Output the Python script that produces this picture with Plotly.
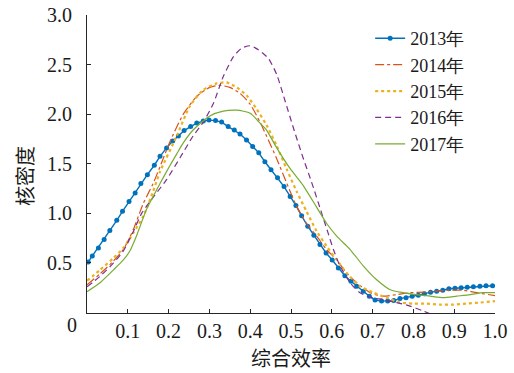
import plotly.graph_objects as go

# ---- data ----
x2013 = [0.003, 0.013, 0.028, 0.042, 0.056, 0.073, 0.087, 0.103, 0.118, 0.132, 0.148, 0.165,
         0.179, 0.195, 0.21, 0.224, 0.238, 0.254, 0.269, 0.285, 0.299, 0.315, 0.33, 0.346,
         0.361, 0.375, 0.391, 0.406, 0.421, 0.436, 0.451, 0.467, 0.483, 0.498, 0.512, 0.526,
         0.541, 0.556, 0.571, 0.586, 0.601, 0.616, 0.632, 0.647, 0.661, 0.677, 0.692, 0.706,
         0.722, 0.737, 0.752, 0.767, 0.782, 0.797, 0.812, 0.827, 0.842, 0.857, 0.872, 0.887,
         0.902, 0.917, 0.932, 0.947, 0.963, 0.978, 0.994]
y2013 = [0.51, 0.57, 0.65, 0.735, 0.826, 0.93, 1.02, 1.12, 1.205, 1.30, 1.39, 1.485,
         1.575, 1.66, 1.73, 1.78, 1.835, 1.875, 1.91, 1.93, 1.94, 1.935, 1.92, 1.875,
         1.84, 1.80, 1.74, 1.675, 1.61, 1.52, 1.44, 1.36, 1.27, 1.17, 1.08, 0.975,
         0.87, 0.78, 0.685, 0.60, 0.53, 0.45, 0.37, 0.315, 0.265, 0.215, 0.165, 0.125,
         0.115, 0.115, 0.12, 0.14, 0.15, 0.165, 0.175, 0.19, 0.205, 0.215, 0.225, 0.24,
         0.245, 0.25, 0.255, 0.26, 0.265, 0.27, 0.27]

x2014 = [0.0, 0.032, 0.065, 0.089, 0.105, 0.114, 0.138, 0.162, 0.179, 0.203, 0.236, 0.269,
         0.301, 0.326, 0.35, 0.375, 0.40, 0.424, 0.44, 0.465, 0.489, 0.514, 0.538, 0.563,
         0.587, 0.612, 0.636, 0.661, 0.694, 0.726, 0.759, 0.792, 0.824, 0.857, 0.89, 0.922,
         0.955, 1.0]
y2014 = [0.28, 0.39, 0.52, 0.635, 0.76, 0.84, 1.10, 1.30, 1.47, 1.72, 2.0, 2.18,
         2.27, 2.29, 2.27, 2.21, 2.10, 1.92, 1.78, 1.55, 1.31, 1.07, 0.90, 0.77,
         0.635, 0.53, 0.40, 0.30, 0.20, 0.165, 0.18, 0.20, 0.205, 0.215, 0.225, 0.225,
         0.20, 0.17]

x2015 = [0.0, 0.032, 0.065, 0.089, 0.113, 0.138, 0.162, 0.179, 0.22, 0.252, 0.285, 0.318,
         0.342, 0.367, 0.391, 0.416, 0.44, 0.465, 0.489, 0.514, 0.538, 0.563, 0.587, 0.612,
         0.636, 0.669, 0.702, 0.734, 0.767, 0.80, 0.832, 0.865, 0.898, 0.93, 0.963, 1.0]
y2015 = [0.32, 0.43, 0.55, 0.65, 0.80, 0.97, 1.22, 1.42, 1.78, 2.08, 2.245, 2.31,
         2.32, 2.27, 2.19, 2.05, 1.89, 1.68, 1.45, 1.22, 1.02, 0.82, 0.67, 0.53,
         0.40, 0.265, 0.20, 0.15, 0.10, 0.09, 0.09, 0.08, 0.08, 0.09, 0.10, 0.115]

x2016 = [0.0, 0.032, 0.065, 0.089, 0.114, 0.134, 0.162, 0.195, 0.228, 0.26, 0.285, 0.31,
         0.334, 0.359, 0.379, 0.40, 0.42, 0.445, 0.465, 0.485, 0.506, 0.528, 0.55, 0.573,
         0.591, 0.604, 0.62, 0.645, 0.669, 0.698, 0.726, 0.759, 0.792, 0.824, 0.845]
y2016 = [0.26, 0.365, 0.50, 0.62, 0.82, 1.0, 1.16, 1.34, 1.56, 1.78, 1.92, 2.11,
         2.38, 2.58, 2.665, 2.69, 2.65, 2.56, 2.40, 2.14, 1.86, 1.58, 1.32, 1.03,
         0.80, 0.635, 0.47, 0.30, 0.20, 0.15, 0.13, 0.10, 0.065, 0.015, -0.02]

x2017 = [0.0, 0.032, 0.065, 0.089, 0.105, 0.122, 0.146, 0.179, 0.203, 0.22, 0.236, 0.26,
         0.30, 0.334, 0.367, 0.40, 0.424, 0.44, 0.465, 0.498, 0.53, 0.563, 0.587, 0.612,
         0.645, 0.677, 0.71, 0.743, 0.775, 0.808, 0.841, 0.873, 0.906, 0.939, 0.971, 1.0]
y2017 = [0.21, 0.30, 0.43, 0.53, 0.62, 0.78, 1.04, 1.30, 1.48, 1.60, 1.71, 1.84,
         1.98, 2.03, 2.04, 2.01, 1.91, 1.84, 1.66, 1.45, 1.28, 1.06, 0.90, 0.77,
         0.635, 0.47, 0.33, 0.23, 0.20, 0.18, 0.165, 0.15, 0.165, 0.18, 0.20, 0.20]

series_names = ["2013年", "2014年", "2015年", "2016年", "2017年"]
x_ticks = [0.1, 0.2, 0.3, 0.4, 0.5, 0.6, 0.7, 0.8, 0.9, 1.0]
x_tick_labels = ["0.1", "0.2", "0.3", "0.4", "0.5", "0.6", "0.7", "0.8", "0.9", "1.0"]
y_ticks = [0.5, 1.0, 1.5, 2.0, 2.5, 3.0]
y_tick_labels = ["0.5", "1.0", "1.5", "2.0", "2.5", "3.0"]

FONT = "Liberation Serif"
CJK = "Noto Sans CJK SC"
TXT = "#1a1a1a"

fig = go.Figure()
fig.add_trace(go.Scatter(x=x2013, y=y2013, name=series_names[0], mode="lines+markers",
                         line=dict(color="#0072BD", width=1.4),
                         marker=dict(symbol="circle", size=5, color="#0072BD")))
fig.add_trace(go.Scatter(x=x2014, y=y2014, name=series_names[1], mode="lines",
                         line=dict(color="#D95319", width=1.2, dash="dashdot", shape="spline", smoothing=0.6)))
fig.add_trace(go.Scatter(x=x2015, y=y2015, name=series_names[2], mode="lines",
                         line=dict(color="#EDB120", width=2.2, dash="dot", shape="spline", smoothing=0.6)))
fig.add_trace(go.Scatter(x=x2016, y=y2016, name=series_names[3], mode="lines",
                         line=dict(color="#7E2F8E", width=1.2, dash="6px,4px", shape="spline", smoothing=0.6)))
fig.add_trace(go.Scatter(x=x2017, y=y2017, name=series_names[4], mode="lines",
                         line=dict(color="#77AC30", width=1.2, shape="spline", smoothing=0.6)))

axis_common = dict(showgrid=False, zeroline=False, showline=True, linecolor="#262626",
                   linewidth=1, ticks="inside", ticklen=4, tickcolor="#262626",
                   tickfont=dict(family=FONT, size=20, color=TXT), mirror=False,
                   automargin=False, ticklabeloverflow="allow")

fig.update_xaxes(range=[0, 1.0], tickvals=x_ticks, ticktext=x_tick_labels,
                 ticklabelstandoff=0, **axis_common)
fig.update_yaxes(range=[-0.005, 3.0], tickvals=y_ticks, ticktext=y_tick_labels,
                 ticklabelstandoff=10, **axis_common)

fig.add_annotation(text="0", xref="paper", yref="paper", x=-0.037, y=-0.04,
                   xanchor="center", yanchor="middle", showarrow=False,
                   font=dict(family=FONT, size=20, color=TXT))
fig.add_annotation(text="核密度", xref="paper", yref="paper", x=-0.152, y=0.46,
                   xanchor="center", yanchor="middle", textangle=-90, showarrow=False,
                   font=dict(family=CJK, size=20, color=TXT))
fig.add_annotation(text="综合效率", xref="paper", yref="paper", x=0.5, y=-0.151,
                   xanchor="center", yanchor="middle", showarrow=False,
                   font=dict(family=CJK, size=20, color=TXT))

fig.update_layout(
    width=514, height=373,
    margin=dict(l=87, r=19, t=15, b=60),
    plot_bgcolor="white", paper_bgcolor="white",
    font=dict(family=FONT, size=20, color=TXT),
    legend=dict(x=0.694, y=0.983, xanchor="left", yanchor="top",
                bgcolor="rgba(0,0,0,0)", borderwidth=0,
                font=dict(family=FONT, size=18, color=TXT),
                tracegroupgap=0, itemwidth=30),
)

fig.write_html("out.html", config={"displayModeBar": False},
               post_script="document.body.style.margin='0';document.body.style.overflow='hidden';")
